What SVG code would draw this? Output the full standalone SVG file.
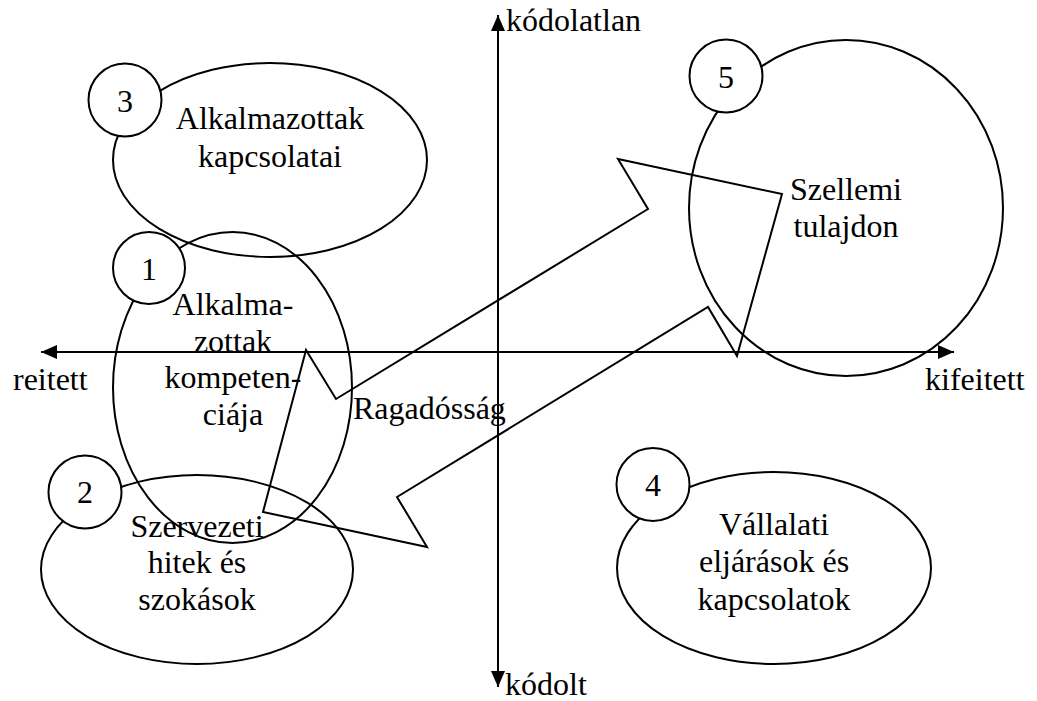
<svg xmlns="http://www.w3.org/2000/svg" width="1037" height="701" viewBox="0 0 1037 701">
  <style>
    .shape { fill: none; stroke: #000; stroke-width: 2; }
    .badge { fill: #fff; stroke: #000; stroke-width: 2; }
    text { font-family: 'Liberation Serif', 'Times New Roman', Tinos, 'DejaVu Serif', serif; font-size: 32px; fill: #000; }
    .c { text-anchor: middle; }
    .axis { stroke: #000; stroke-width: 2; fill: none; marker-start: url(#arr); marker-end: url(#arr); }
  </style>
  <defs>
    <marker id="arr" markerUnits="userSpaceOnUse" markerWidth="16" markerHeight="14" refX="16" refY="7" orient="auto-start-reverse">
      <path d="M0,0 L16,7 L0,14 z" fill="#000"/>
    </marker>
  </defs>
  <rect width="1037" height="701" fill="#fff"/>

  <g id="connectors">
    <line class="axis" x1="498" y1="15" x2="498" y2="687"/>
    <line class="axis" x1="41" y1="352" x2="954" y2="352"/>
    <polygon class="shape" points="306,350 336,399 648,209 618,159 782,194 737,356 708,307 397,497 427,547 263,512"/>
  </g>

  <g id="axis-labels" font-family="Liberation Serif, serif">
    <text x="506" y="31">kódolatlan</text>
    <text x="505" y="695">kódolt</text>
    <text x="13" y="390">reitett</text>
    <text x="925" y="390">kifeitett</text>
    <text x="353" y="419">Ragadósság</text>
  </g>

  <g id="node-3">
    <ellipse class="shape" cx="270" cy="160" rx="157" ry="97"/>
    <circle class="badge" cx="125" cy="100" r="36.5"/>
    <text class="c" x="125" y="112">3</text>
    <text class="c" x="270" y="129">Alkalmazottak</text>
    <text class="c" x="270" y="167">kapcsolatai</text>
  </g>

  <g id="node-1">
    <ellipse class="shape" cx="232.5" cy="387.5" rx="119.5" ry="155.5"/>
    <circle class="badge" cx="149" cy="268" r="36"/>
    <text class="c" x="149" y="280">1</text>
    <text class="c" x="233" y="315">Alkalma-</text>
    <text class="c" x="233" y="352">zottak</text>
    <text class="c" x="233" y="388">kompeten-</text>
    <text class="c" x="233" y="425">ciája</text>
  </g>

  <g id="node-2">
    <ellipse class="shape" cx="197" cy="569.5" rx="156" ry="94.5"/>
    <circle class="badge" cx="85" cy="492" r="36.5"/>
    <text class="c" x="85" y="503">2</text>
    <text class="c" x="197" y="537">Szervezeti</text>
    <text class="c" x="197" y="573">hitek és</text>
    <text class="c" x="197" y="610">szokások</text>
  </g>

  <g id="node-4">
    <ellipse class="shape" cx="774" cy="568" rx="157" ry="96"/>
    <circle class="badge" cx="653" cy="484.5" r="36.5"/>
    <text class="c" x="653" y="496">4</text>
    <text class="c" x="774" y="535">Vállalati</text>
    <text class="c" x="774" y="572">eljárások és</text>
    <text class="c" x="774" y="610">kapcsolatok</text>
  </g>

  <g id="node-5">
    <ellipse class="shape" cx="846" cy="208" rx="157" ry="168"/>
    <circle class="badge" cx="726" cy="76" r="36.5"/>
    <text class="c" x="726" y="88">5</text>
    <text class="c" x="846" y="200">Szellemi</text>
    <text class="c" x="846" y="237">tulajdon</text>
  </g>
</svg>
